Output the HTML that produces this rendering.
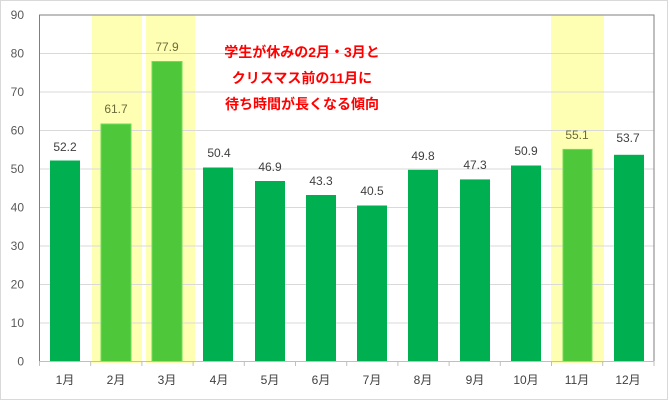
<!DOCTYPE html>
<html><head><meta charset="utf-8"><style>
body{margin:0;background:#fff}
svg{display:block;font-family:"Liberation Sans","Noto Sans CJK JP",sans-serif}
</style></head><body>
<svg width="669" height="401" viewBox="0 0 669 401">
<rect x="0.5" y="0.5" width="667" height="399" fill="#fff" stroke="#d9d9d9"/>
<g id="bands" fill="#ffffb3">
<rect x="92" y="15" width="50" height="348"/>
<rect x="146" y="15" width="49" height="348"/>
<rect x="551" y="15" width="53" height="348"/>
</g>
<g stroke="#d9d9d9" stroke-width="1">
<line x1="39.5" x2="654" y1="53.5" y2="53.5"/>
<line x1="39.5" x2="654" y1="92" y2="92"/>
<line x1="39.5" x2="654" y1="130.5" y2="130.5"/>
<line x1="39.5" x2="654" y1="169" y2="169"/>
<line x1="39.5" x2="654" y1="207.5" y2="207.5"/>
<line x1="39.5" x2="654" y1="246" y2="246"/>
<line x1="39.5" x2="654" y1="284.5" y2="284.5"/>
<line x1="39.5" x2="654" y1="323" y2="323"/>
</g>
<g>
<rect x="50" y="160.5" width="30" height="201" fill="#00b050"/>
<rect x="101" y="124" width="30" height="237.5" fill="#4ec83a" stroke="#6edc5a"/>
<rect x="152" y="61.5" width="30" height="300" fill="#4ec83a" stroke="#6edc5a"/>
<rect x="203" y="167.5" width="30" height="194" fill="#00b050"/>
<rect x="255" y="181" width="30" height="180.5" fill="#00b050"/>
<rect x="306" y="195" width="30" height="166.5" fill="#00b050"/>
<rect x="357" y="205.5" width="30" height="156" fill="#00b050"/>
<rect x="408" y="169.8" width="30" height="191.7" fill="#00b050"/>
<rect x="460" y="179.4" width="30" height="182.1" fill="#00b050"/>
<rect x="511" y="165.5" width="30" height="196" fill="#00b050"/>
<rect x="563" y="149.4" width="29" height="212.1" fill="#4ec83a" stroke="#6edc5a"/>
<rect x="614" y="154.8" width="30" height="206.7" fill="#00b050"/>
</g>
<rect x="39.5" y="15" width="614.5" height="346.5" fill="none" stroke="#7f7f7f" stroke-width="1"/>
<line x1="39.5" x2="654" y1="361.5" y2="361.5" stroke="#bfbfbf"/>
<g stroke="#bfbfbf">
<line x1="39.5" x2="39.5" y1="361" y2="366"/><line x1="90.7" x2="90.7" y1="361" y2="366"/><line x1="141.9" x2="141.9" y1="361" y2="366"/><line x1="193.1" x2="193.1" y1="361" y2="366"/><line x1="244.3" x2="244.3" y1="361" y2="366"/><line x1="295.5" x2="295.5" y1="361" y2="366"/><line x1="346.7" x2="346.7" y1="361" y2="366"/><line x1="397.9" x2="397.9" y1="361" y2="366"/><line x1="449.1" x2="449.1" y1="361" y2="366"/><line x1="500.3" x2="500.3" y1="361" y2="366"/><line x1="551.5" x2="551.5" y1="361" y2="366"/><line x1="602.7" x2="602.7" y1="361" y2="366"/><line x1="654" x2="654" y1="361" y2="366"/>
</g>
<g font-size="12" fill="#595959" text-anchor="end">
<text x="24" y="19">90</text><text x="24" y="57.5">80</text><text x="24" y="96">70</text><text x="24" y="134.5">60</text><text x="24" y="173">50</text><text x="24" y="211.5">40</text><text x="24" y="250">30</text><text x="24" y="288.5">20</text><text x="24" y="327">10</text><text x="24" y="365.5">0</text>
</g>
<g font-size="12" fill="#404040" text-anchor="middle">
<text x="65" y="384">1月</text><text x="116" y="384">2月</text><text x="167" y="384">3月</text><text x="219" y="384">4月</text><text x="270" y="384">5月</text><text x="321" y="384">6月</text><text x="372" y="384">7月</text><text x="423" y="384">8月</text><text x="475" y="384">9月</text><text x="526" y="384">10月</text><text x="577" y="384">11月</text><text x="628" y="384">12月</text>
</g>
<g font-size="12" fill="#404040" text-anchor="middle">
<text x="65" y="151">52.2</text><text x="116" y="113" fill="#6b6b3a">61.7</text><text x="167" y="51" fill="#6b6b3a">77.9</text><text x="219" y="157">50.4</text><text x="270" y="171">46.9</text><text x="321" y="185">43.3</text><text x="372" y="195">40.5</text><text x="423" y="160">49.8</text><text x="475" y="169">47.3</text><text x="526" y="155">50.9</text><text x="577" y="139" fill="#6b6b3a">55.1</text><text x="628" y="142">53.7</text>
</g>
<g font-size="14" font-weight="bold" fill="#ff0000" text-anchor="middle">
<text x="302" y="57">学生が休みの2月・3月と</text>
<text x="302" y="83">クリスマス前の11月に</text>
<text x="302" y="109">待ち時間が長くなる傾向</text>
</g>
</svg>
</body></html>
